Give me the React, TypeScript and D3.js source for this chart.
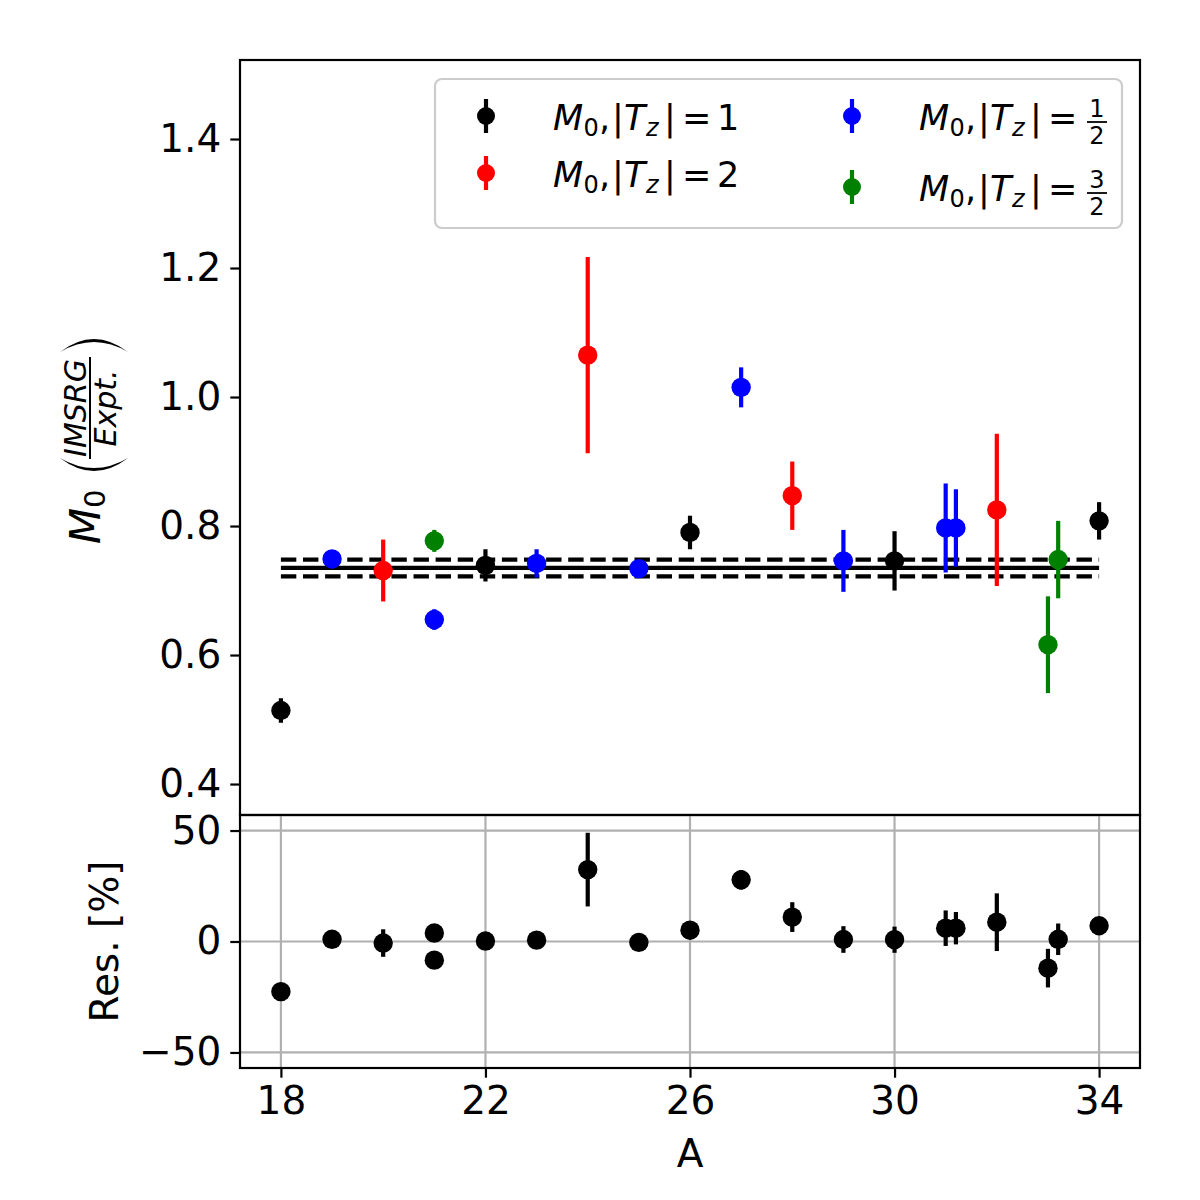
import React, { useRef, useEffect } from 'react';
import * as d3 from 'd3';

// |Tz| = 1 (black)
const tz1A = [18, 22, 26, 30, 34];
const tz1Val = [0.514, 0.739, 0.790, 0.746, 0.808];
const tz1Err = [0.019, 0.025, 0.026, 0.046, 0.029];
// |Tz| = 2 (red)
const tz2A = [20, 24, 28, 32];
const tz2Val = [0.731, 1.065, 0.847, 0.825];
const tz2Err = [0.048, 0.152, 0.053, 0.118];
// |Tz| = 1/2 (blue)
const tzHalfA = [19, 21, 23, 25, 27, 29, 31, 31.2];
const tzHalfVal = [0.749, 0.655, 0.742, 0.734, 1.015, 0.746, 0.797, 0.797];
const tzHalfErr = [0.005, 0.016, 0.022, 0.006, 0.031, 0.048, 0.069, 0.060];
// |Tz| = 3/2 (green)
const tz32A = [21, 33, 33.2];
const tz32Val = [0.777, 0.616, 0.748];
const tz32Err = [0.017, 0.075, 0.060];

// residuals [%]
const resA = [18, 19, 20, 21, 21, 22, 23, 24, 25, 26, 27, 28, 29, 30, 31, 31.2, 32, 33, 33.2, 34];
const resVal = [-22.6, 1.0, -0.7, 3.8, -8.4, 0.2, 0.6, 32.4, -0.4, 5.1, 27.8, 11.0, 0.9, 0.8, 6.0, 6.0, 8.7, -12.0, 1.0, 7.1];
const resErr = [1.9, 0.5, 6.2, 1.7, 1.6, 2.5, 2.2, 16.6, 0.8, 2.6, 4.4, 6.7, 6.0, 5.9, 8.0, 7.3, 13.0, 8.7, 7.1, 2.9];

const meanRatio = 0.735;
const meanBand = 0.013;
const lineRange = [18, 34];

const ratioTicks = [0.4, 0.6, 0.8, 1.0, 1.2, 1.4];
const resTicks = [-50, 0, 50];
const aTicks = [18, 22, 26, 30, 34];

const FONT = 'DejaVu Sans';

function App() {
  const svgRef = useRef(null);
  useEffect(() => {
    const svg = d3.select(svgRef.current);
    svg.selectAll('*').remove();
    svg.style('font-family', FONT);

    const left = 240, right = 1140, top = 60, mid = 815, bottom = 1068;
    const x = d3.scaleLinear().domain([17.2, 34.8]).range([left, right]);
    const y = d3.scaleLinear().domain([0.352, 1.5225]).range([mid, top]);
    const yr = d3.scaleLinear().domain([-57, 57]).range([bottom, mid]);
    const R = 9.7;
    const lw = 4.2;

    const series = [
      { A: tz1A, v: tz1Val, e: tz1Err, color: 'black' },
      { A: tz2A, v: tz2Val, e: tz2Err, color: 'red' },
      { A: tzHalfA, v: tzHalfVal, e: tzHalfErr, color: 'blue' },
      { A: tz32A, v: tz32Val, e: tz32Err, color: 'green' },
    ];

    // ---- top panel ----
    const gTop = svg.append('g');
    // mean line + band
    gTop.append('line')
      .attr('x1', x(lineRange[0])).attr('x2', x(lineRange[1]))
      .attr('y1', y(meanRatio)).attr('y2', y(meanRatio))
      .attr('stroke', 'black').attr('stroke-width', lw);
    [meanRatio + meanBand, meanRatio - meanBand].forEach(v => {
      gTop.append('line')
        .attr('x1', x(lineRange[0])).attr('x2', x(lineRange[1]))
        .attr('y1', y(v)).attr('y2', y(v))
        .attr('stroke', 'black').attr('stroke-width', lw)
        .attr('stroke-dasharray', '15.4 6.7');
    });

    series.forEach(s => {
      const pts = s.A.map((a, i) => ({ a, v: s.v[i], e: s.e[i] }));
      gTop.selectAll(null).data(pts).join('line')
        .attr('x1', d => x(d.a)).attr('x2', d => x(d.a))
        .attr('y1', d => y(d.v - d.e)).attr('y2', d => y(d.v + d.e))
        .attr('stroke', s.color).attr('stroke-width', lw);
      gTop.selectAll(null).data(pts).join('circle')
        .attr('cx', d => x(d.a)).attr('cy', d => y(d.v)).attr('r', R)
        .attr('fill', s.color);
    });

    gTop.append('rect')
      .attr('x', left).attr('y', top).attr('width', right - left).attr('height', mid - top)
      .attr('fill', 'none').attr('stroke', 'black').attr('stroke-width', 2.2);

    const yAxis = d3.axisLeft(y).tickValues(ratioTicks).tickFormat(d3.format('.1f'))
      .tickSize(9.7).tickPadding(9);
    const gy = svg.append('g').attr('transform', `translate(${left},0)`).call(yAxis);
    gy.select('.domain').remove();
    gy.selectAll('.tick line').attr('stroke-width', 2.2);
    gy.selectAll('.tick text').attr('font-size', 39).attr('font-family', FONT).attr('fill', 'black');

    // ---- bottom panel ----
    const gBot = svg.append('g');
    aTicks.forEach(a => {
      gBot.append('line').attr('x1', x(a)).attr('x2', x(a)).attr('y1', mid).attr('y2', bottom)
        .attr('stroke', '#b0b0b0').attr('stroke-width', 2.2);
    });
    resTicks.forEach(r => {
      gBot.append('line').attr('x1', left).attr('x2', right).attr('y1', yr(r)).attr('y2', yr(r))
        .attr('stroke', '#b0b0b0').attr('stroke-width', 2.2);
    });
    const rpts = resA.map((a, i) => ({ a, v: resVal[i], e: resErr[i] }));
    gBot.selectAll(null).data(rpts).join('line')
      .attr('x1', d => x(d.a)).attr('x2', d => x(d.a))
      .attr('y1', d => yr(d.v - d.e)).attr('y2', d => yr(d.v + d.e))
      .attr('stroke', 'black').attr('stroke-width', lw);
    gBot.selectAll(null).data(rpts).join('circle')
      .attr('cx', d => x(d.a)).attr('cy', d => yr(d.v)).attr('r', R).attr('fill', 'black');
    gBot.append('rect')
      .attr('x', left).attr('y', mid).attr('width', right - left).attr('height', bottom - mid)
      .attr('fill', 'none').attr('stroke', 'black').attr('stroke-width', 2.2);

    const yrAxis = d3.axisLeft(yr).tickValues(resTicks).tickFormat(d => d3.format('d')(d).replace('-', '\u2212'))
      .tickSize(9.7).tickPadding(9);
    const gyr = svg.append('g').attr('transform', `translate(${left},0)`).call(yrAxis);
    gyr.select('.domain').remove();
    gyr.selectAll('.tick line').attr('stroke-width', 2.2);
    gyr.selectAll('.tick text').attr('font-size', 39).attr('font-family', FONT).attr('fill', 'black');

    const xAxis = d3.axisBottom(x).tickValues(aTicks).tickFormat(d3.format('d'))
      .tickSize(9.7).tickPadding(9);
    const gx = svg.append('g').attr('transform', `translate(0,${bottom})`).call(xAxis);
    gx.select('.domain').remove();
    gx.selectAll('.tick line').attr('stroke-width', 2.2);
    gx.selectAll('.tick text').attr('font-size', 39).attr('font-family', FONT).attr('fill', 'black');

    // axis labels
    svg.append('text').attr('x', (left + right) / 2).attr('y', 1167)
      .attr('text-anchor', 'middle').attr('font-size', 39).text('A');
    svg.append('text').attr('transform', `translate(118,${(mid + bottom) / 2}) rotate(-90)`)
      .attr('text-anchor', 'middle').attr('font-size', 39).text('Res. [%]');

    // M_0 (IMSRG / Expt.) label, drawn in a rotated frame
    const yl = svg.append('g').attr('transform', 'translate(100,440) rotate(-90)');
    yl.append('text').attr('x', -104).attr('y', 0).attr('font-size', 42).attr('font-style', 'italic').text('M');
    yl.append('text').attr('x', -68).attr('y', 5).attr('font-size', 29).text('0');
    yl.append('path').attr('d', 'M -18,-40 Q -44,-6 -18,28 Q -38,-6 -18,-40 Z').attr('fill', 'black');
    yl.append('path').attr('d', 'M 88,-40 Q 114,-6 88,28 Q 108,-6 88,-40 Z').attr('fill', 'black');
    yl.append('line').attr('x1', -19).attr('x2', 83).attr('y1', -10).attr('y2', -10)
      .attr('stroke', 'black').attr('stroke-width', 2);
    yl.append('text').attr('x', 32).attr('y', -14).attr('text-anchor', 'middle')
      .attr('font-size', 30).attr('font-style', 'italic').text('IMSRG');
    yl.append('text').attr('x', 32).attr('y', 16).attr('text-anchor', 'middle')
      .attr('font-size', 30).attr('font-style', 'italic').text('Expt.');

    // ---- legend ----
    svg.append('rect').attr('x', 435).attr('y', 79).attr('width', 687).attr('height', 149)
      .attr('rx', 7).attr('fill', 'white').attr('fill-opacity', 0.8)
      .attr('stroke', '#cccccc').attr('stroke-width', 2.2);

    const legendItems = [
      { color: 'black', mx: 486, my: 116, tx: 553, base: 130, num: '1', den: '' },
      { color: 'red', mx: 486, my: 173, tx: 553, base: 187, num: '2', den: '' },
      { color: 'blue', mx: 852, my: 116, tx: 919, base: 130, num: '1', den: '2' },
      { color: 'green', mx: 852, my: 187, tx: 919, base: 201, num: '3', den: '2' },
    ];
    legendItems.forEach(it => {
      svg.append('line').attr('x1', it.mx).attr('x2', it.mx).attr('y1', it.my - 17).attr('y2', it.my + 17)
        .attr('stroke', it.color).attr('stroke-width', lw);
      svg.append('circle').attr('cx', it.mx).attr('cy', it.my).attr('r', 9).attr('fill', it.color);
      const t = svg.append('text').attr('y', it.base).attr('font-size', 35);
      const part = (dx: number, txt: string, opts: any = {}) => {
        const sp = t.append('tspan').attr('x', it.tx + dx).attr('y', it.base + (opts.dy || 0)).text(txt);
        if (opts.italic) sp.attr('font-style', 'italic');
        if (opts.size) sp.attr('font-size', opts.size);
      };
      part(0, 'M', { italic: true });
      part(30.5, '0', { size: 24, dy: 6 });
      part(46, ',');
      part(59, '|');
      part(71, 'T', { italic: true });
      part(93, 'z', { italic: true, size: 24, dy: 6 });
      part(111, '|');
      part(129, '=');
      if (!it.den) {
        part(164, it.num);
      } else {
        const cx = it.tx + 178;
        const bar = it.base - 8;
        svg.append('text').attr('x', cx).attr('y', bar - 5).attr('text-anchor', 'middle')
          .attr('font-size', 24).text(it.num);
        svg.append('line').attr('x1', cx - 10).attr('x2', cx + 10)
          .attr('y1', bar).attr('y2', bar).attr('stroke', 'black').attr('stroke-width', 1.8);
        svg.append('text').attr('x', cx).attr('y', bar + 22).attr('text-anchor', 'middle')
          .attr('font-size', 24).text(it.den);
      }
    });
  }, []);

  return (
    <div>
      <svg ref={svgRef} width={1200} height={1200}
        style={{ position: 'absolute', left: 0, top: 0, background: 'white' }}></svg>
    </div>
  );
}

export default App;
